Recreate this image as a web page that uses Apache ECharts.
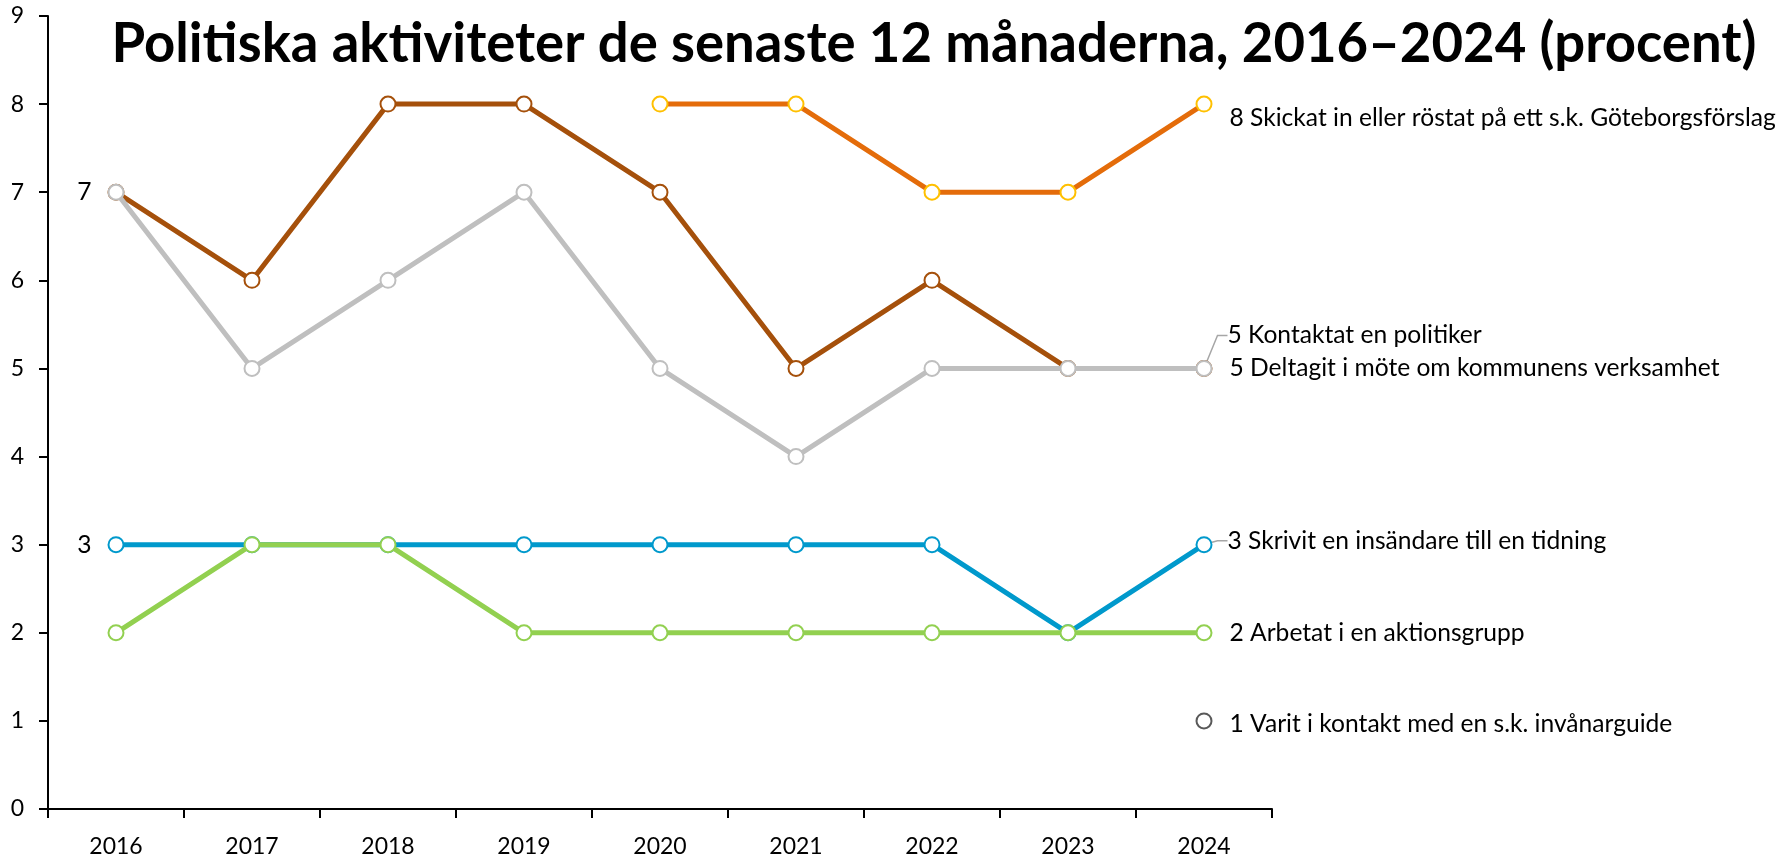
<!DOCTYPE html>
<html>
<head>
<meta charset="utf-8">
<script src="https://cdn.jsdelivr.net/npm/echarts@6/dist/echarts.min.js"></script>
<style>
html,body{margin:0;padding:0;background:#fff;}
#chart{width:1785px;height:858px;}
</style>
</head>
<body>
<div id="chart"></div>
<script>
const years = ['2016','2017','2018','2019','2020','2021','2022','2023','2024'];
const kontaktatPolitiker = [7, 6, 8, 8, 7, 5, 6, 5, 5];
const deltagitMote = [7, 5, 6, 7, 5, 4, 5, 5, 5];
const goteborgsforslag = [null, null, null, null, 8, 8, 7, 7, 8];
const insandare = [3, 3, 3, 3, 3, 3, 3, 2, 3];
const aktionsgrupp = [2, 3, 3, 2, 2, 2, 2, 2, 2];
const invanarguide = [null, null, null, null, null, null, null, null, 1];
const yTicks = [0,1,2,3,4,5,6,7,8,9];

const names = {
  kontaktat: 'Kontaktat en politiker',
  deltagit: 'Deltagit i möte om kommunens verksamhet',
  gbg: 'Skickat in eller röstat på ett s.k. Göteborgsförslag',
  insandare: 'Skrivit en insändare till en tidning',
  aktion: 'Arbetat i en aktionsgrupp',
  guide: 'Varit i kontakt med en s.k. invånarguide'
};

const FONT = 'Lato, "Open Sans", sans-serif';
const LBL = 24.6;

function mkData(arr, name, opts) {
  opts = opts || {};
  return arr.map((v, i) => {
    const item = { value: v };
    if (i === arr.length - 1 && v != null) {
      item.label = {
        show: true, position: 'right', distance: opts.leader ? 15 : 17,
        formatter: v + ' ' + name,
        fontSize: LBL, fontFamily: FONT, color: '#000'
      };
    }
    if (i === 0 && opts.firstLabel && v != null) {
      item.label = {
        show: true, position: 'left', distance: 16,
        formatter: String(v),
        fontSize: LBL, fontFamily: FONT, color: '#000'
      };
      item.labelLine = { show: false };
    }
    return item;
  });
}

function lineSeries(arr, name, color, markerColor, opts) {
  opts = opts || {};
  const last = arr.length - 1;
  const s = {
    type: 'line',
    name: name,
    data: mkData(arr, name, opts),
    symbol: 'circle',
    symbolSize: 15,
    showAllSymbol: true,
    connectNulls: false,
    lineStyle: { color: color, width: 5 },
    itemStyle: { color: '#fff', borderColor: markerColor, borderWidth: 2 },
    label: { show: false },
    emphasis: { disabled: true },
    z: opts.z || 2,
    animation: false
  };
  if (opts.dy) {
    s.labelLayout = function (p) {
      return p.dataIndex === last ? { dy: opts.dy } : {};
    };
  }
  if (opts.leader) {
    s.labelLine = { show: true, length2: 10, smooth: false,
      lineStyle: { color: '#A6A6A6', width: 1.5 } };
  }
  return s;
}

const chart = echarts.init(document.getElementById('chart'), null, { renderer: 'canvas' });
chart.setOption({
  backgroundColor: '#fff',
  animation: false,
  title: {
    text: 'Politiska aktiviteter de senaste 12 månaderna, 2016–2024 (procent)',
    left: 929, top: 12, textAlign: 'center',
    textStyle: { fontFamily: FONT, fontWeight: 'bold', fontSize: 54.5, color: '#000' }
  },
  grid: { left: 48, right: 513, top: 16, bottom: 47, containLabel: false },
  xAxis: {
    type: 'category',
    data: years,
    boundaryGap: true,
    axisLine: { lineStyle: { color: '#000', width: 2 } },
    axisTick: { show: true, length: 9, lineStyle: { color: '#000', width: 2 } },
    axisLabel: { fontFamily: FONT, fontSize: 23, color: '#000', margin: 26 },
    splitLine: { show: false }
  },
  yAxis: {
    type: 'value',
    min: 0, max: 9, interval: 1,
    axisLine: { show: true, lineStyle: { color: '#000', width: 2 } },
    axisTick: { show: true, length: 9, lineStyle: { color: '#000', width: 2 } },
    axisLabel: { fontFamily: FONT, fontSize: 23, color: '#000', margin: 24,
      formatter: v => yTicks.includes(v) ? String(v) : '' },
    splitLine: { show: false }
  },
  series: [
    lineSeries(kontaktatPolitiker, names.kontaktat, '#A5500B', '#A5500B', { dy: -33, z: 2, firstLabel: true, leader: true }),
    lineSeries(deltagitMote, names.deltagit, '#BFBFBF', '#BFBFBF', { z: 3 }),
    lineSeries(goteborgsforslag, names.gbg, '#E46C0A', '#FFC000', { dy: 14, z: 3 }),
    lineSeries(insandare, names.insandare, '#0099CC', '#0099CC', { dy: -4, z: 2, firstLabel: true, leader: true }),
    lineSeries(aktionsgrupp, names.aktion, '#92D050', '#92D050', { z: 3 }),
    {
      type: 'line', name: names.guide,
      data: mkData(invanarguide, names.guide, {}),
      labelLayout: { dy: 3 },
      symbol: 'circle', symbolSize: 15, showAllSymbol: true,
      lineStyle: { width: 0 },
      itemStyle: { color: '#fff', borderColor: '#595959', borderWidth: 2 },
      emphasis: { disabled: true }, animation: false
    }
  ]
});
</script>
</body>
</html>
